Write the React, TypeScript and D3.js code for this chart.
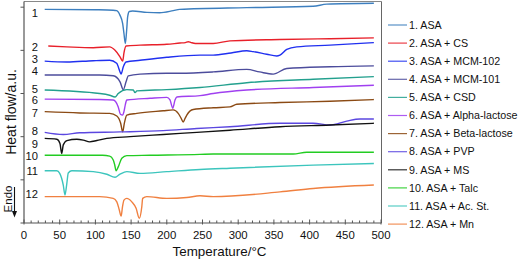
import React from "react";
import * as d3 from "d3";

// ---- data (temperature °C, heat flow a.u.) ----
const seriesNames = [
  "1. ASA",
  "2. ASA + CS",
  "3. ASA + MCM-102",
  "4. ASA + MCM-101",
  "5. ASA + CSD",
  "6. ASA + Alpha-lactose",
  "7. ASA + Beta-lactose",
  "8. ASA + PVP",
  "9. ASA + MS",
  "10. ASA + Talc",
  "11. ASA + Ac. St.",
  "12. ASA + Mn",
];
const curveLabels = ["1", "2", "3", "4", "5", "6", "7", "8", "9", "10", "11", "12"];
const xTickValues = [0, 50, 100, 150, 200, 250, 300, 350, 400, 450, 500];
const yTickValues = [0, 10, 20, 30, 40, 50];

const asa = [[29,49.5],[100,49.4],[125,49.3],[129.8,49.2],[134.5,48.1],[138.2,46.2],[140,43.9],[141.9,41.6],[143.8,44.7],[145.2,47.8],[147.5,49.0],[152,49.1],[172,48.8],[190,48.7],[209,49.2],[218,49.5],[312,49.9],[405,50.2],[424,50.7],[490,50.9]];
const asaCs = [[34,41.0],[60,40.8],[97,40.6],[120,40.8],[127.5,40.0],[134.5,38.5],[138.2,37.5],[140,39.4],[142.9,41.0],[162.5,41.2],[200,41.4],[218.5,41.7],[226,41.8],[230,42.0],[234,41.8],[240,41.6],[265,41.6],[288.5,42.2],[358.5,42.5],[428.6,42.7],[490,42.9]];
const asaMcm102 = [[29,37.5],[60,37.3],[97,37.6],[120,37.7],[129.8,37.0],[134.5,35.0],[135.9,34.5],[139.1,36.2],[142.9,37.3],[162.5,37.7],[200,38.4],[246.5,38.9],[265,38.9],[290,39.4],[312,39.9],[321,39.7],[340,39.1],[354,38.7],[358.5,38.9],[368,40.2],[382,40.8],[428.6,41.2],[490,41.8]];
const asaMcm101 = [[29,34.3],[106,34.3],[125,34.1],[134.5,32.7],[139.1,30.9],[142.9,32.7],[146.1,34.1],[162.5,34.5],[200,34.7],[218.5,34.7],[265,35.0],[312,35.6],[330,35.0],[349,34.5],[368,35.8],[428.6,36.2],[490,36.4]];
const asaCsd = [[29,30.8],[106,30.0],[120,29.6],[127.5,29.2],[132,30.0],[144,30.9],[153,30.8],[155.5,30.2],[158,30.6],[200,30.9],[246.5,31.4],[312,32.5],[405,33.3],[490,33.9]];
const asaAlphaLactose = [[29,28.7],[106,28.6],[125,28.5],[132,26.9],[135,25.2],[138.2,25.0],[140,25.8],[142,27.5],[144,28.5],[176.5,28.9],[200,29.1],[204.5,28.5],[208.3,26.6],[211.5,28.5],[214,29.2],[246.5,29.5],[265,30.0],[312,30.8],[405,31.4],[490,31.9]];
const asaBetaLactose = [[29,25.8],[78,25.5],[120,25.4],[130,24.8],[135.4,23.1],[138.2,21.1],[140.5,23.1],[144,25.0],[158,25.4],[195,26.0],[209,26.2],[216,25.4],[220,24.3],[223,23.4],[225.5,24.2],[228,25.0],[237,26.3],[265,26.7],[288.5,26.9],[298,27.5],[358.5,27.9],[428.6,28.2],[490,28.6]];
const asaPvp = [[29,21.0],[55,20.5],[78,20.9],[134.5,21.1],[195,21.4],[242,21.9],[288.5,22.3],[358.5,23.1],[405,23.1],[428.6,22.7],[452,23.6],[470.6,24.1],[490,24.1]];
const asaMs = [[29,19.6],[46,19.4],[50.4,18.4],[52.8,16.1],[55,18.1],[60,19.1],[74,19.4],[83,19.2],[92,18.8],[102,19.1],[116,19.6],[148.5,20.0],[195,20.5],[242,21.0],[288.5,21.5],[358.5,22.3],[428.6,22.7],[490,23.1]];
const asaTalc = [[29,15.7],[110,15.7],[120,15.5],[125,14.6],[127,13.5],[129,12.1],[132,13.0],[137,15.0],[144,15.6],[176.5,15.7],[246.5,15.9],[265,16.0],[377,16.0],[396,16.4],[490,16.4]];
const asaAcSt = [[29,12.1],[46,12.1],[50,11.5],[55,8.8],[57.4,6.5],[60,9.2],[62,11.6],[67,12.1],[97,11.9],[116,11.3],[127.5,10.6],[134.5,11.3],[144,11.9],[162.5,11.5],[200,11.9],[246.5,12.4],[288.5,12.7],[405,13.4],[490,13.8]];
const asaMn = [[29,6.1],[106,6.1],[125,5.7],[130,4.9],[133.5,3.0],[136,1.6],[138,3.8],[140,5.3],[144,5.7],[151,4.9],[157,3.4],[161.5,1.1],[165,3.8],[166.2,5.7],[172,6.1],[200,5.7],[228,5.9],[246.5,6.3],[265,6.1],[358.5,7.2],[405,8.0],[490,8.8]];

const seriesData = [asa, asaCs, asaMcm102, asaMcm101, asaCsd, asaAlphaLactose, asaBetaLactose, asaPvp, asaMs, asaTalc, asaAcSt, asaMn];

// ---- styles ----
const colors = ["#3d7fbf", "#e8202a", "#2030f0", "#4c4c9c", "#23a08e", "#a040f0", "#8b4a14", "#5b47e0", "#111111", "#22cc22", "#3cc5bd", "#f08040"];
const labelNudge = [4, 1, -2, -4, -1, 1, 1, -1, 6, 1, 0, -3];

const W = 520, H = 262;
const left = 24, right = 381, top = 2, bottom = 223;
const FONT = "'Liberation Sans', Arial, Helvetica, sans-serif";

export default function App() {
  const x = d3.scaleLinear().domain([0, 500]).range([left, right]);
  const y = d3.scaleLinear().domain([0, 51.2]).range([bottom, top]);
  const line = d3.line<number[]>().x((d) => x(d[0])).y((d) => y(d[1])).curve(d3.curveMonotoneX);
  const minorTicks = d3.range(0, 501, 10).filter((t) => t % 50 !== 0);

  return (
    <svg width={W} height={H} style={{ position: "absolute", left: 0, top: 0, background: "#fff" }} fontFamily={FONT}>
      {/* frame */}
      <line x1={left} x2={right + 0.5} y1={top - 0.5} y2={top - 0.5} stroke="#888" strokeWidth={1} />
      <line x1={right + 0.5} x2={right + 0.5} y1={top - 0.5} y2={bottom} stroke="#666" strokeWidth={1} />
      <line x1={left} x2={left} y1={top - 0.5} y2={bottom} stroke="#555" strokeWidth={1.2} />
      <line x1={left} x2={right + 0.5} y1={bottom} y2={bottom} stroke="#555" strokeWidth={1.2} />

      {/* x ticks */}
      {xTickValues.map((t) => (
        <g key={"xt" + t}>
          <line x1={x(t)} x2={x(t)} y1={bottom - 3.5} y2={bottom + 1.5} stroke="#555" strokeWidth={1} />
          <text x={x(t)} y={bottom + 16} fontSize={11.4} textAnchor="middle" fill="#111">{t}</text>
        </g>
      ))}
      {minorTicks.map((t) => (
        <line key={"xm" + t} x1={x(t)} x2={x(t)} y1={bottom - 2.5} y2={bottom} stroke="#555" strokeWidth={1} />
      ))}
      {/* y ticks */}
      {yTickValues.map((t) => (
        <line key={"yt" + t} x1={left - 3.5} x2={left} y1={y(t)} y2={y(t)} stroke="#555" strokeWidth={1} />
      ))}

      {/* curves */}
      {seriesData.map((s, i) => (
        <path key={"c" + i} d={line(s) || ""} fill="none" stroke={colors[i]} strokeWidth={1.4} strokeLinejoin="round" />
      ))}

      {/* curve labels */}
      {seriesData.map((s, i) => (
        <text key={"l" + i} x={38} y={y(s[0][1]) + labelNudge[i]} dy="0.35em" fontSize={11.2} textAnchor="end" fill="#111">
          {curveLabels[i]}
        </text>
      ))}

      {/* axis titles */}
      <text x={(left + right) / 2 + 17} y={256} fontSize={13.4} textAnchor="middle" fill="#111">Temperature/°C</text>
      <text transform="translate(16,112) rotate(-90)" fontSize={14} textAnchor="middle" fill="#111">Heat flow/a.u.</text>
      <text transform="translate(11.5,199) rotate(-90)" fontSize={11.5} textAnchor="middle" fill="#111">Endo</text>
      <line x1={14.5} x2={14.5} y1={187} y2={213} stroke="#111" strokeWidth={1.1} />
      <path d="M12,211 L17,211 L14.5,217.5 Z" fill="#111" />

      {/* legend */}
      {seriesNames.map((n, i) => {
        const ly = 25 + i * 18.1;
        return (
          <g key={"lg" + i}>
            <line x1={388} x2={407} y1={ly} y2={ly} stroke={colors[i]} strokeWidth={1.2} opacity={0.85} />
            <text x={409} y={ly} dy="0.35em" fontSize={10.7} fill="#111">{n}</text>
          </g>
        );
      })}
    </svg>
  );
}
